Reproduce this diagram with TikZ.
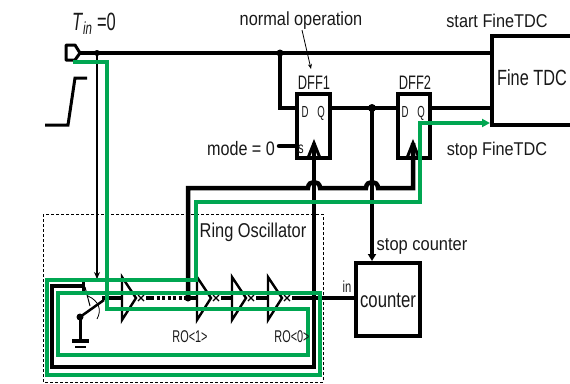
\documentclass[tikz,border=0pt]{standalone}
\usepackage{fontspec}
\setmainfont{Liberation Sans}
\usetikzlibrary{arrows.meta}
\newcommand{\lbl}[3]{\scalebox{#2}[1]{\fontsize{#1}{#1}\selectfont #3}}
\definecolor{grn}{RGB}{0,166,81}
\definecolor{txt}{RGB}{25,25,25}
\begin{document}
\begin{tikzpicture}[x=1pt,y=-1pt,
  wire/.style={line width=4.5pt},
  thinwire/.style={line width=2.5pt},
  gwire/.style={grn, line width=3.6pt, line join=miter},
  blk/.style={draw, line width=4pt, inner sep=0pt},
  lab/.style={anchor=base, inner sep=0pt, text=txt},
  invbox/.style={line width=2.4pt, fill=white, line join=miter}]
\useasboundingbox (0,0) rectangle (570,383);

% ---------- boxes ----------
\node[blk, minimum width=33pt, minimum height=64pt] (dff1) at (313.5,126) {};
\node[blk, minimum width=32pt, minimum height=64pt] (dff2) at (414,126) {};
\node[blk, minimum width=90pt, minimum height=89pt] (fine) at (537,80.5) {};
\node[blk, minimum width=64pt, minimum height=73pt] (cnt) at (388,299.5) {};

% ---------- coordinates ----------
\coordinate (pin) at (80,53);
\coordinate (j1) at (97,53);
\coordinate (j2) at (280,53);
\coordinate (fineA) at (fine.west |- pin);
\coordinate (d1D) at (dff1.west |- 0,108);
\coordinate (d1Q) at (dff1.east |- 0,108);
\coordinate (d2D) at (dff2.west |- 0,108);
\coordinate (d2Q) at (dff2.east |- 0,108);
\coordinate (fineB) at (fine.west |- 0,108);
\coordinate (fineC) at (fine.west |- 0,123);
\coordinate (d1S) at (dff1.west |- 0,146);
\coordinate (modeEnd) at (279,146);
\coordinate (c1apex) at (314,143);
\coordinate (c2apex) at (413,143);
\coordinate (qdot) at (372,108);
\coordinate (cntTop) at (cnt.north -| qdot);
\coordinate (cntIn) at (cnt.west |- 0,298);
\coordinate (ro1) at (188,298);
\coordinate (swctl) at (97,279);
\coordinate (swtop) at (83,286);
\coordinate (pivot) at (80,317);
\coordinate (swout) at (104,300);
\coordinate (gnd) at (80,341);
\coordinate (noA) at (302,30);
\coordinate (noB) at (311,69);

% ---------- input pin and step ----------
\draw[wire] (pin) -- (fineA);
\draw[line width=3pt, fill=white, line join=round] (66,45) -- (75,45) -- (pin) -- (75,60) -- (66,60) -- cycle;
\draw[line width=3pt] (45,125) -- (68,125) -- (75,78) -- (87,78);
\fill (j1) circle (3pt);
\fill (j2) circle (3.5pt);
\draw[thinwire, -{Stealth[length=7pt,width=6pt]}] (j1) -- (swctl);

% ---------- DFFs ----------
\draw[wire] (j2) -- (280,108) -- (d1D);
\draw[wire] (d1Q) -- (d2D);
\draw[wire] (d2Q) -- (fineB);
\fill (qdot) circle (4pt);
\draw[wire, line cap=round] (modeEnd) -- (d1S);
\draw[line width=3pt] (308,158) -- (c1apex) -- (320,158);
\draw[line width=3pt] (407,158) -- (c2apex) -- (419,158);
\draw[line width=0.8pt, -{Stealth[length=5pt,width=4pt]}] (noA) -- (noB);

% clock of DFF1 and ring loop back
\draw[wire, line join=miter] (c1apex) -- (314,367) -- (52,367) -- (52,286) -- (swtop);
\draw[line width=3pt] (83,281) -- (83,291);
% clock of DFF2 to RO<1>
\draw[wire, line join=miter] (c2apex) -- (413,188) -- (378,188)
  .. controls (378,180) and (366,180) .. (366,188) -- (320,188)
  .. controls (320,180) and (308,180) .. (308,188) -- (188,188) -- (ro1);
\fill (ro1) circle (3.5pt);
% stop counter
\draw[wire, -{Triangle[length=7pt,width=8pt]}] (qdot) -- (cntTop);

% ---------- switch ----------
\fill (pivot) circle (3.5pt);
\draw[line width=3pt] (pivot) -- (gnd);
\draw[line width=4pt] (72,341) -- (89,341);
\draw[line width=1.5pt] (75,347) -- (86,347);
\draw[line width=2.5pt] (pivot) -- (swout);
\draw[line width=1pt] (85,287) -- (90,306);
\draw[line width=0.8pt] (88,296) .. controls (99,301) and (102,310) .. (97,319);

% ---------- inverter chain ----------
\draw[wire] (swout) -- (104,298) -- (122,298);
\draw[wire] (146,298) -- (151,298);
\draw[wire, dash pattern=on 3pt off 2.5pt] (151,298) -- (184,298);
\draw[wire] (184,298) -- (197,298);
\draw[wire] (221,298) -- (232,298);
\draw[wire] (256,298) -- (268,298);
\draw[wire] (292,298) -- (cntIn);
\foreach \L in {122,197,232,268}{
  \draw[invbox] (\L,277) -- (\L+14,298) -- (\L,320) -- cycle;
  \draw[line width=1.3pt] (\L+16,295) -- (\L+22,301) (\L+16,301) -- (\L+22,295);
}

% ---------- dashed ring oscillator frame ----------
\draw[line width=0.8pt, dash pattern=on 3pt off 2pt] (43,214) rectangle (323,382);

% ---------- green signal path ----------
\draw[gwire, -{Triangle[length=8pt,width=8pt]}]
  (73,62) -- (107,62) -- (107,309) -- (308,309) -- (308,355) -- (58,355) -- (58,293)
  -- (320,293) -- (320,375) -- (47,375) -- (47,280) -- (196,280) -- (196,202)
  -- (420,202) -- (420,123) -- (fineC);

% ---------- labels ----------
\node[lab] (tin) at (94,30) {\lbl{25}{0.66}{\textit{T}\textsubscript{\textit{in}} =0}};
\node[lab] (normal) at (301,25) {\lbl{19}{0.86}{normal operation}};
\node[lab] (start) at (497,27) {\lbl{18.5}{0.88}{start FineTDC}};
\node[lab] (finet) at (532,85) {\lbl{22}{0.74}{Fine TDC}};
\node[lab] (stopf) at (497,155) {\lbl{18.5}{0.88}{stop FineTDC}};
\node[lab] (dff1l) at (314,89) {\lbl{19.5}{0.66}{DFF1}};
\node[lab] (dff2l) at (415,89) {\lbl{19.5}{0.66}{DFF2}};
\node[lab] (d1dl) at (305,117) {\lbl{16}{0.6}{D}};
\node[lab] (d1ql) at (321,117) {\lbl{16}{0.6}{Q}};
\node[lab] (d2dl) at (405,117) {\lbl{16}{0.6}{D}};
\node[lab] (d2ql) at (421,117) {\lbl{16}{0.6}{Q}};
\node[lab] (d1sl) at (301,153) {\lbl{16}{0.7}{s}};
\node[lab] (model) at (241,155) {\lbl{19.5}{0.83}{mode = 0}};
\node[lab] (ringl) at (253,237) {\lbl{20}{0.82}{Ring Oscillator}};
\node[lab] (stopc) at (422,250) {\lbl{18.5}{0.89}{stop counter}};
\node[lab] (cntl) at (388,307) {\lbl{22}{0.76}{counter}};
\node[lab] (inl) at (347,292) {\lbl{16}{0.7}{in}};
\node[lab] (ro1l) at (190,342) {\lbl{17}{0.64}{RO<1>}};
\node[lab] (ro0l) at (292,342) {\lbl{17}{0.64}{RO<0>}};
\end{tikzpicture}
\end{document}
